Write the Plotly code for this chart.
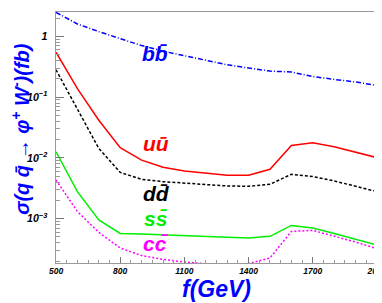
import math
import plotly.graph_objects as go

f_gev = [500, 600, 700, 800, 900, 1000, 1100, 1200, 1300, 1400, 1500, 1600, 1700, 1800, 1900, 2000]

sigma_bb = [2.49, 1.60, 1.20, 0.91, 0.706, 0.572, 0.484, 0.401, 0.341, 0.301, 0.269, 0.259, 0.219, 0.196, 0.178, 0.156]
sigma_uu = [0.55, 0.138, 0.0417, 0.0147, 0.0092, 0.0070, 0.0061, 0.0056, 0.0052, 0.0052, 0.0065, 0.0160, 0.0178, 0.0153, 0.0123, 0.0101]
sigma_dd = [0.282, 0.0648, 0.0143, 0.00578, 0.00444, 0.00407, 0.00382, 0.00368, 0.00345, 0.00342, 0.00368, 0.00537, 0.00492, 0.00418, 0.00345, 0.00279]
sigma_ss = [0.01264, 0.00279, 0.000955, 0.000571, 0.000557, 0.000537, 0.000517, 0.000503, 0.000492, 0.000482, 0.000511, 0.000774, 0.000699, 0.000568, 0.000455, 0.000368]
sigma_cc = [0.00433, 0.00131, 0.000594, 0.000328, 0.000247, 0.000213, 0.000194, 0.000180, 0.000176, 0.000183, 0.000225, 0.000617, 0.000641, 0.000516, 0.000412, 0.000320]

x_ticks = [500, 800, 1100, 1400, 1700, 2000]

labels = ["bb\u0304", "uu\u0304", "dd\u0304", "ss\u0304", "cc\u0304"]
label_x = [963, 968, 968, 968, 968]
label_y = [0.52, 0.0172, 0.00255, 0.00101, 0.000395]

series = [
    (sigma_bb, "#0000ff", "5px,2px,1px,2px"),
    (sigma_uu, "#ff0000", "solid"),
    (sigma_dd, "#000000", "3px,2px"),
    (sigma_ss, "#00ee00", "solid"),
    (sigma_cc, "#ff00ff", "2px,2px"),
]

fig = go.Figure()
for ys, col, dash in series:
    fig.add_trace(go.Scatter(x=f_gev, y=ys, mode="lines",
                             line=dict(color=col, width=1.5, dash=dash),
                             showlegend=False))

font_fam = "Liberation Sans, Arial, sans-serif"
label_cols = ["#0000ff", "#ff0000", "#000000", "#00ee00", "#ff00ff"]
for t, xv, yv, c in zip(labels, label_x, label_y, label_cols):
    fig.add_annotation(x=xv, y=math.log10(yv), xref="x", yref="y",
                       xanchor="center", yanchor="middle",
                       text="<b><i>" + t + "</i></b>", showarrow=False,
                       font=dict(family=font_fam, size=21, color=c))

fig.add_annotation(x=-0.111, y=0.536, xref="paper", yref="paper", textangle=-90,
                   xanchor="center", yanchor="middle",
                   text="<b><i>\u03c3(q q\u0304 \u2192 \u03c6<sup>+</sup> W<sup>-</sup>)(fb)</i></b>",
                   showarrow=False, font=dict(family=font_fam, size=20, color="#0000ff"))
fig.add_annotation(x=0.5, y=-0.105, xref="paper", yref="paper",
                   xanchor="center", yanchor="middle",
                   text="<b><i>f(GeV)</i></b>",
                   showarrow=False, font=dict(family=font_fam, size=23, color="#0000ff"))

fig.update_xaxes(range=[499.9, 2000.1], tickvals=x_ticks, ticktext=[str(v) for v in x_ticks],
                 showgrid=False, zeroline=False, showline=True, linecolor="#999999", linewidth=1,
                 mirror=True, ticks="inside", ticklen=6, tickcolor="#777777",
                 ticklabeloverflow="allow",
                 minor=dict(ticks="inside", dtick=50, tick0=500, ticklen=3, tickcolor="#999999"),
                 tickfont=dict(family=font_fam, size=8.5, color="black", weight="bold", style="italic"))
fig.update_yaxes(type="log", range=[-3.73, 0.402], dtick=1, exponentformat="power",
                 showgrid=False, zeroline=False, showline=True, linecolor="#999999", linewidth=1,
                 mirror=True, ticks="inside", ticklen=8, tickcolor="#777777",
                 minor=dict(ticks="inside", dtick="D1", ticklen=4, tickcolor="#999999"),
                 ticklabelstandoff=6,
                 tickfont=dict(family=font_fam, size=8.5, color="black", weight="bold", style="italic"))

fig.update_layout(width=382, height=303, margin=dict(l=48, r=9, t=3, b=48),
                  paper_bgcolor="white", plot_bgcolor="white")

fig.write_html("out.html")
